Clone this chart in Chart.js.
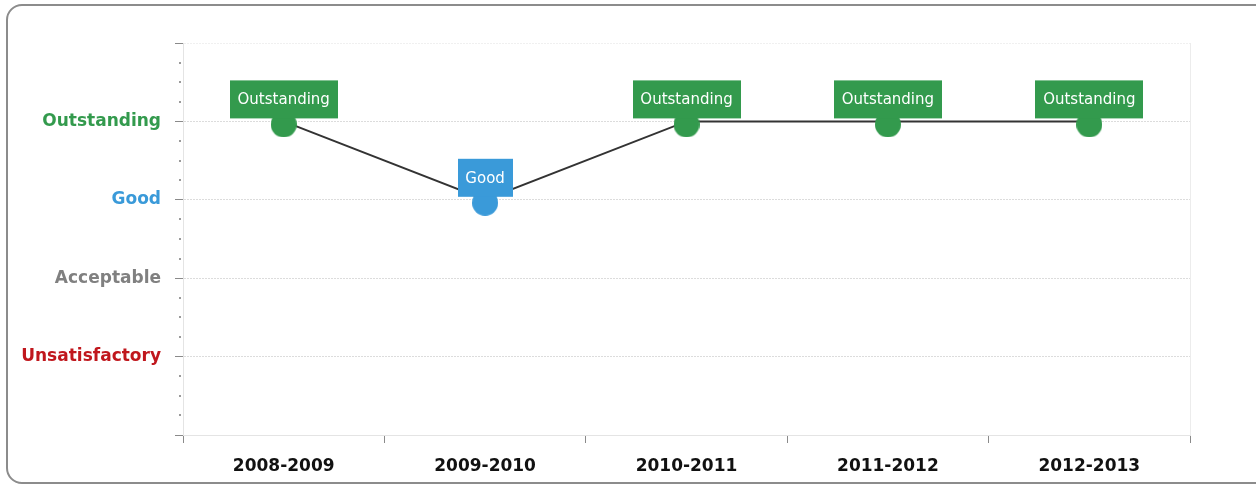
<!DOCTYPE html>
<html>
<head>
<meta charset="utf-8">
<script src="https://cdn.jsdelivr.net/npm/chart.js@4/dist/chart.umd.min.js"></script>
<style>
  html, body { margin: 0; padding: 0; background: #fff; }
  .panel {
    position: absolute; left: 6px; top: 4px;
    width: 1262px; height: 476px;
    border: 2px solid #8c8c8c; border-radius: 16px;
  }
  #chart { position: absolute; left: 0; top: 0; }
</style>
</head>
<body>
<div class="panel"></div>
<canvas id="chart" width="1256" height="484"></canvas>
<script>
// ratings per school year
const years = ['2008-2009', '2009-2010', '2010-2011', '2011-2012', '2012-2013'];
const ratings = [4, 3, 4, 4, 4];

// y axis levels (value -> name, colour)
const levelNames = ['', 'Unsatisfactory', 'Acceptable', 'Good', 'Outstanding', ''];
const levelColors = ['#000', '#c0171d', '#808080', '#3a9ad9', '#339a4d', '#000'];

const pointColors = ratings.map(v => levelColors[v]);

// round marker sitting a little below the point, like the original
function markerImage(color) {
  const c = document.createElement('canvas');
  c.width = 26;
  c.height = 32;
  const g = c.getContext('2d');
  g.fillStyle = color;
  g.beginPath();
  g.arc(13, 19, 13, 0, Math.PI * 2);
  g.fill();
  return c;
}
const pointImages = pointColors.map(markerImage);

// label boxes above each point
const boxLabels = {
  id: 'boxLabels',
  afterDatasetsDraw(chart) {
    const ctx = chart.ctx;
    const meta = chart.getDatasetMeta(0);
    ctx.save();
    ctx.font = '15px "DejaVu Sans"';
    ctx.textAlign = 'center';
    ctx.textBaseline = 'middle';
    meta.data.forEach((pt, i) => {
      const text = levelNames[ratings[i]];
      const w = Math.round(ctx.measureText(text).width) + 16;
      const h = 38;
      const bottom = pt.y - 3;
      ctx.fillStyle = pointColors[i];
      ctx.fillRect(Math.round(pt.x - w / 2), bottom - h, w, h);
      ctx.fillStyle = '#fff';
      ctx.fillText(text, pt.x, bottom - h / 2 + 1);
    });
    ctx.restore();
  }
};

// small minor ticks on the y axis
const minorTicks = {
  id: 'minorTicks',
  afterDraw(chart) {
    const ctx = chart.ctx;
    const y = chart.scales.y;
    ctx.save();
    ctx.fillStyle = '#9a9a9a';
    for (let v = 0; v < 5; v++) {
      [0.25, 0.5, 0.75].forEach(f => {
        const py = Math.round(y.getPixelForValue(v + f));
        ctx.fillRect(y.right - 4, py - 1, 2, 2);
      });
    }
    ctx.restore();
  }
};

new Chart(document.getElementById('chart'), {
  type: 'line',
  data: {
    labels: years,
    datasets: [{
      data: ratings,
      borderColor: '#333',
      borderWidth: 2,
      pointStyle: pointImages,
      pointRadius: 13,
      pointHoverRadius: 13,
      pointBackgroundColor: pointColors,
      pointBorderColor: pointColors,
      pointBorderWidth: 0,
      tension: 0
    }]
  },
  options: {
    responsive: false,
    animation: false,
    layout: { padding: { left: 0, top: 43, right: 66, bottom: 0 } },
    plugins: { legend: { display: false }, tooltip: { enabled: false } },
    scales: {
      x: {
        type: 'category',
        offset: true,
        afterFit: s => { s.height = 49; },
        grid: {
          offset: true,
          drawOnChartArea: true,
          color: c => c.type === 'scale' ? '#ececec' : 'rgba(0,0,0,0)',
          tickColor: '#8a8a8a',
          tickLength: 8
        },
        border: { color: '#e4e4e4', width: 1 },
        ticks: {
          color: '#111',
          font: { family: '"DejaVu Sans"', size: 17, weight: 'bold' },
          padding: 13
        }
      },
      y: {
        min: 0,
        max: 5,
        afterFit: s => { s.width = 183; },
        grid: {
          color: c => c.tick && c.tick.value === 5 ? '#f0f0f0' : '#dcdcdc',
          tickColor: '#8a8a8a',
          tickLength: 8
        },
        border: { color: '#e4e4e4', width: 1, dash: [2, 1] },
        ticks: {
          stepSize: 1,
          padding: 14,
          callback: v => levelNames[v],
          color: c => levelColors[c.tick.value],
          font: { family: '"DejaVu Sans"', size: 17, weight: 'bold' }
        }
      }
    }
  },
  plugins: [boxLabels, minorTicks]
});
</script>
</body>
</html>
